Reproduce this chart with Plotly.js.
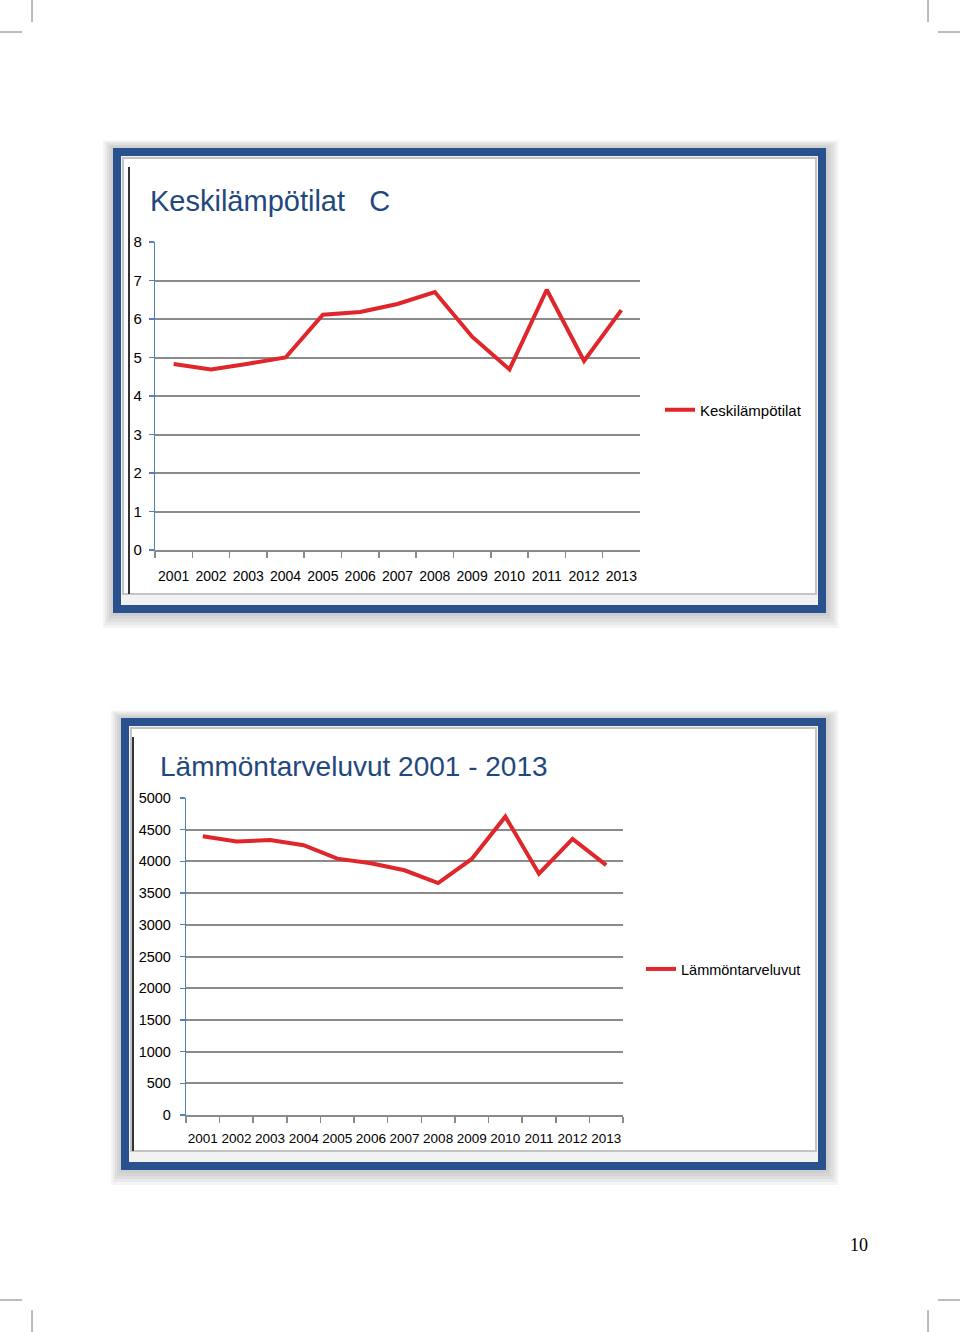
<!DOCTYPE html>
<html>
<head>
<meta charset="utf-8">
<script src="https://cdn.plot.ly/plotly-3.0.1.min.js"></script>
<style>
html,body{margin:0;padding:0;background:#fff;}
#chart{width:960px;height:1332px;}
</style>
</head>
<body>
<div id="chart"></div>
<script>
// ---- data ----
const years = ['2001','2002','2003','2004','2005','2006','2007','2008','2009','2010','2011','2012','2013'];
const keskilampotilat = [4.83, 4.69, 4.84, 5.00, 6.11, 6.18, 6.39, 6.70, 5.54, 4.69, 6.76, 4.91, 6.23];
const lammontarveluvut = [4398, 4314, 4336, 4256, 4043, 3970, 3860, 3659, 4038, 4706, 3805, 4355, 3942];
const titleTop = 'Keskilämpötilat   C';
const titleBottom = 'Lämmöntarveluvut 2001 - 2013';
const nameTop = 'Keskilämpötilat';
const nameBottom = 'Lämmöntarveluvut';
const pageNumber = '10';

// ---- helpers (page pixel -> paper coords) ----
const W = 960, H = 1332;
const px = x => x / W;
const py = y => 1 - y / H;

const FAM = '"Liberation Sans", Arial, sans-serif';
const tickFont = {family: FAM, size: 14, color: '#000'};
const titleFont = {family: FAM, color: '#1f497d'};
const red = '#e0262b';
const gridGray = '#8a8a8a';
const axisBlue = '#4f81bd';

const traces = [
  {x: years, y: keskilampotilat, name: nameTop, type: 'scatter', mode: 'lines',
   line: {color: red, width: 4}, xaxis: 'x', yaxis: 'y', legend: 'legend', hoverinfo: 'x+y'},
  {x: years, y: lammontarveluvut, name: nameBottom, type: 'scatter', mode: 'lines',
   line: {color: red, width: 4}, xaxis: 'x2', yaxis: 'y2', legend: 'legend2', hoverinfo: 'x+y'}
];

function frameShapes(x0, y0, x1, y1, darkX) {
  const s = [];
  // soft shadow
  for (let i = 5; i >= 1; i--) {
    s.push({type:'rect', xref:'paper', yref:'paper', layer:'below',
      x0: px(x0 - i*2), x1: px(x1 + i*2.5), y0: py(y1 + i*3), y1: py(y0 - i*1.5),
      line:{width:0}, fillcolor:'rgba(110,110,110,0.08)'});
  }
  // blue frame
  s.push({type:'rect', xref:'paper', yref:'paper', layer:'below',
    x0: px(x0 + 4), x1: px(x1 - 4), y0: py(y1 - 4), y1: py(y0 + 4),
    line:{color:'#28518d', width:8}, fillcolor:'#f2f2f2'});
  // inner white panel
  s.push({type:'rect', xref:'paper', yref:'paper', layer:'below',
    x0: px(x0 + 10), x1: px(x1 - 10), y0: py(y1 - 19), y1: py(y0 + 10),
    line:{color:'#c4c4c4', width:2}, fillcolor:'#ffffff'});
  // dark left edge of chart area
  s.push({type:'line', xref:'paper', yref:'paper', layer:'below',
    x0: px(darkX), x1: px(darkX), y0: py(y0 + 19), y1: py(y1 - 19),
    line:{color:'#333333', width:2}});
  return s;
}

const cropMarks = [
  [32,0,32,22],[0,32,22,32],
  [928,0,928,22],[938,32,960,32],
  [32,1310,32,1332],[0,1300,22,1300],
  [928,1310,928,1332],[938,1300,960,1300]
].map(c => ({type:'line', xref:'paper', yref:'paper', x0:px(c[0]), y0:py(c[1]), x1:px(c[2]), y1:py(c[3]),
  line:{color:'#7a7a7a', width:1}}));

const xCommon = {type:'category', range:[-0.5, 12.5], tickson:'boundaries', ticks:'outside', ticklen:6,
  tickcolor:gridGray, tickwidth:1.5, showline:true, linecolor:gridGray, linewidth:1.5, showgrid:false,
  zeroline:false, tickfont:tickFont, tickangle:0, fixedrange:true};
const yCommon = {showline:true, linecolor:axisBlue, linewidth:1.2, ticks:'outside', ticklen:5, tickcolor:axisBlue,
  tickwidth:1.2, showgrid:true, gridcolor:gridGray, gridwidth:2, zeroline:false, tickfont:tickFont, fixedrange:true};

const layout = {
  width: W, height: H,
  margin: {l:0, r:0, t:0, b:0},
  paper_bgcolor: '#ffffff',
  plot_bgcolor: 'rgba(0,0,0,0)',
  showlegend: true,
  xaxis: Object.assign({}, xCommon, {domain:[px(155), px(640)], anchor:'y', ticklabelstandoff:13}),
  yaxis: Object.assign({}, yCommon, {domain:[py(550), py(242)], anchor:'x', range:[0, 8], dtick:1, ticklabelstandoff:4,
    tickfont: Object.assign({}, tickFont, {size:15})}),
  xaxis2: Object.assign({}, xCommon, {domain:[px(186), px(623)], anchor:'y2', ticklabelstandoff:10,
    tickfont: Object.assign({}, tickFont, {size:13.5})}),
  yaxis2: Object.assign({}, yCommon, {domain:[py(1115), py(798)], anchor:'x2', range:[0, 5000], dtick:500, ticklabelstandoff:6,
    tickfont: Object.assign({}, tickFont, {size:14.5})}),
  legend: {x: px(660), y: py(410), xanchor:'left', yanchor:'middle', bgcolor:'rgba(0,0,0,0)',
    font: Object.assign({}, tickFont, {size:15}), itemwidth:30},
  legend2: {x: px(641), y: py(969), xanchor:'left', yanchor:'middle', bgcolor:'rgba(0,0,0,0)',
    font: Object.assign({}, tickFont, {size:14.5}), itemwidth:30},
  annotations: [
    {text: titleTop, xref:'paper', yref:'paper', x: px(148), y: py(201), xanchor:'left', yanchor:'middle',
     showarrow:false, font: Object.assign({}, titleFont, {size:29})},
    {text: titleBottom, xref:'paper', yref:'paper', x: px(158), y: py(766), xanchor:'left', yanchor:'middle',
     showarrow:false, font: Object.assign({}, titleFont, {size:28})},
    {text: pageNumber, xref:'paper', yref:'paper', x: px(859), y: py(1245), xanchor:'center', yanchor:'middle',
     showarrow:false, font: {family:'"Liberation Serif", "DejaVu Serif", serif', size:18, color:'#000'}}
  ],
  shapes: [].concat(frameShapes(113, 148, 826, 613, 129), frameShapes(121, 718, 826, 1170, 133), cropMarks)
};

Plotly.newPlot('chart', traces, layout, {displayModeBar:false, staticPlot:true});
</script>
</body>
</html>
